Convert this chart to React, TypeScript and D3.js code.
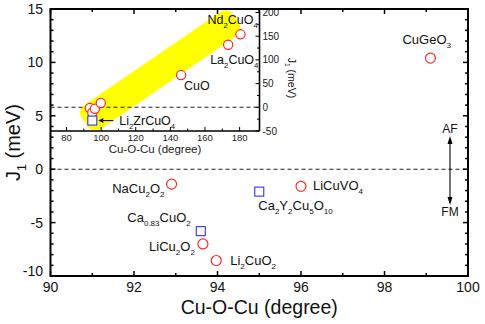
import * as d3 from "d3";

// main panel: J1 vs Cu-O-Cu angle
const circleNames = ["CuGeO_3", "NaCu_2O_2", "LiCu_2O_2", "Li_2CuO_2", "LiCuVO_4"];
const circleAngle = [99.1, 92.9, 93.65, 93.97, 96.0];
const circleJ1 = [10.4, -1.4, -7.0, -8.55, -1.6];

const squareNames = ["Ca_0.83CuO_2", "Ca_2Y_2Cu_5O_10"];
const squareAngle = [93.6, 95.0];
const squareJ1 = [-5.8, -2.1];

// inset: J1 over a wide angle range
const insetCircleAngle = [93.5, 94.9, 96.4, 99.8, 146.2, 173.4, 180.5];
const insetCircleJ1 = [-1.5, -11, -3, 9, 68, 132, 154];
const insetCircleNames = ["", "", "", "", "CuO", "La_2CuO_4", "Nd_2CuO_4"];
const insetSquareAngle = [94.9];
const insetSquareJ1 = [-28];
const insetSquareNames = ["Li_2ZrCuO_4"];

const xTicks = [90, 92, 94, 96, 98, 100];
const yTicks = [-10, -5, 0, 5, 10, 15];
const insetXTicks = [80, 100, 120, 140, 160, 180];
const insetYTicks = [-50, 0, 50, 100, 150, 200];

// yellow band ends (angle, J1)
const bandStart = [92.5, -27];
const bandEnd = [176, 182];

const FONT = "'Liberation Sans', Arial, Helvetica, sans-serif";

// label offsets [dx, dy, anchor]
const circleLabelPos: [number, number, string][] = [
  [-28, -14, "start"],
  [-7, 9, "end"],
  [-8, 7, "end"],
  [14, 4, "start"],
  [12, 4, "start"],
];
const squareLabelPos: [number, number, string][] = [
  [-10, -9, "end"],
  [-1, 18, "start"],
];
const insetLabelPos: [number, number, string][] = [
  [0, 0, "start"],
  [0, 0, "start"],
  [0, 0, "start"],
  [0, 0, "start"],
  [3, 15, "start"],
  [-18, 19, "start"],
  [-33, -10, "start"],
];

function Chem({ text, x, y, size, anchor = "start", transform }: any) {
  const parts = text.split(/(_[0-9.]+)/).filter(Boolean);
  let shifted = false;
  const sh = size * 0.32;
  return (
    <text x={x} y={y} fontSize={size} textAnchor={anchor} fontFamily={FONT} fill="#111" transform={transform}>
      {parts.map((p: string, i: number) => {
        if (p.startsWith("_")) {
          const el = (
            <tspan key={i} dy={shifted ? 0 : sh} fontSize={size * 0.62}>
              {p.slice(1)}
            </tspan>
          );
          shifted = true;
          return el;
        }
        const el = (
          <tspan key={i} dy={shifted ? -sh : 0}>
            {p}
          </tspan>
        );
        shifted = false;
        return el;
      })}
    </text>
  );
}

export default function App() {
  const width = 485;
  const height = 324;

  const x = d3.scaleLinear().domain([90, 100]).range([50.5, 468]);
  const y = d3.scaleLinear().domain([-10, 15]).range([276, 9]);

  const ix = d3.scaleLinear().domain([70.75, 191.5]).range([50.5, 259.5]);
  const iy = d3.scaleLinear().domain([-50, 207.4]).range([131, 9]);

  const xMinor = d3.range(90, 101, 1);
  const yMinor = d3.range(-10, 16, 1);
  const ixMinor = d3.range(80, 190, 10);
  const iyMinor = d3.range(-50, 201, 25);

  // band geometry from inset scales
  const bx0 = ix(bandStart[0]);
  const by0 = iy(bandStart[1]);
  const bx1 = ix(bandEnd[0]);
  const by1 = iy(bandEnd[1]);
  const bandLen = Math.hypot(bx1 - bx0, by1 - by0) + 8;
  const bandAng = (Math.atan2(by1 - by0, bx1 - bx0) * 180) / Math.PI;
  const bandW = 29;

  const [x0, x1] = x.range();
  const [yb, yt] = y.range();
  const insetRight = ix.range()[1];
  const insetBottom = iy.range()[0];

  return (
    <svg
      width={width}
      height={height}
      style={{ position: "absolute", left: 0, top: 0, background: "#fff" }}
    >
      {/* ---------- inset ---------- */}
      <rect x={x0} y={yt} width={insetRight - x0} height={insetBottom - yt} fill="#fff" />
      <g transform={`translate(${(bx0 + bx1) / 2},${(by0 + by1) / 2}) rotate(${bandAng})`}>
        <rect x={-bandLen / 2} y={-bandW / 2} width={bandLen} height={bandW} rx={9} fill="#ffff00" />
      </g>
      <line x1={x0} x2={insetRight} y1={iy(0)} y2={iy(0)} stroke="#222" strokeWidth={1.1} strokeDasharray="4,3" />
      {insetCircleAngle.map((a, i) => (
        <circle key={i} cx={ix(a)} cy={iy(insetCircleJ1[i])} r={4.6} fill="#fff" stroke="#ff2a2a" strokeWidth={1.2} />
      ))}
      {insetSquareAngle.map((a, i) => (
        <rect key={i} x={ix(a) - 4.5} y={iy(insetSquareJ1[i]) - 4.5} width={9} height={9} fill="#fff" stroke="#3030ff" strokeWidth={1.1} />
      ))}
      {insetCircleNames.map((n, i) =>
        n ? (
          <Chem
            key={i}
            text={n}
            x={ix(insetCircleAngle[i]) + insetLabelPos[i][0]}
            y={iy(insetCircleJ1[i]) + insetLabelPos[i][1]}
            size={12.5}
            anchor={insetLabelPos[i][2]}
          />
        ) : null
      )}
      {insetSquareNames.map((n, i) => {
        const sx = ix(insetSquareAngle[i]);
        const sy = iy(insetSquareJ1[i]);
        return (
          <g key={i}>
            <line x1={sx + 21} x2={sx + 9} y1={sy} y2={sy} stroke="#111" strokeWidth={1.1} />
            <path d={`M${sx + 6},${sy} L${sx + 11},${sy - 2.5} L${sx + 11},${sy + 2.5} Z`} fill="#111" />
            <Chem text={n} x={sx + 27} y={sy + 4} size={12.5} />
          </g>
        );
      })}
      {/* inset frame and axes */}
      <line x1={x0} x2={insetRight} y1={insetBottom} y2={insetBottom} stroke="#000" strokeWidth={1.6} />
      <line x1={insetRight} x2={insetRight} y1={yt} y2={insetBottom} stroke="#000" strokeWidth={1.6} />
      {ixMinor.map((t) => (
        <line key={t} x1={ix(t)} x2={ix(t)} y1={insetBottom} y2={insetBottom - (t % 20 === 0 ? 4 : 2.5)} stroke="#000" strokeWidth={1} />
      ))}
      {insetXTicks.map((t) => (
        <text key={t} x={ix(t)} y={insetBottom + 10} fontSize={9.5} textAnchor="middle" fontFamily={FONT} fill="#222">
          {t}
        </text>
      ))}
      <text x={(x0 + insetRight) / 2} y={152.5} fontSize={11.5} textAnchor="middle" fontFamily={FONT} fill="#222">
        Cu-O-Cu (degree)
      </text>
      {iyMinor.map((t) => (
        <line key={t} x1={insetRight} x2={insetRight - (t % 50 === 0 ? 4 : 2.5)} y1={iy(t)} y2={iy(t)} stroke="#000" strokeWidth={1} />
      ))}
      {insetYTicks.map((t) => (
        <text key={t} x={insetRight + 3} y={iy(t)} dy="0.35em" fontSize={10} fontFamily={FONT} fill="#222">
          {t}
        </text>
      ))}
      <Chem text="J_1 (meV)" x={0} y={0} size={10.5} anchor="middle" transform={`translate(288,78) rotate(90)`} />

      {/* ---------- main panel ---------- */}
      <line x1={insetRight} x2={x1} y1={y(0)} y2={y(0)} stroke="#222" strokeWidth={1.1} strokeDasharray="4,3" />
      <line x1={x0} x2={insetRight} y1={y(0)} y2={y(0)} stroke="#222" strokeWidth={1.1} strokeDasharray="4,3" />

      {circleAngle.map((a, i) => (
        <circle key={i} cx={x(a)} cy={y(circleJ1[i])} r={5} fill="none" stroke="#ff2a2a" strokeWidth={1.2} />
      ))}
      {squareAngle.map((a, i) => (
        <rect key={i} x={x(a) - 4.5} y={y(squareJ1[i]) - 4.5} width={9} height={9} fill="none" stroke="#3030ff" strokeWidth={1.1} />
      ))}
      {circleNames.map((n, i) => (
        <Chem
          key={i}
          text={n}
          x={x(circleAngle[i]) + circleLabelPos[i][0]}
          y={y(circleJ1[i]) + circleLabelPos[i][1]}
          size={13}
          anchor={circleLabelPos[i][2]}
        />
      ))}
      {squareNames.map((n, i) => (
        <Chem
          key={i}
          text={n}
          x={x(squareAngle[i]) + squareLabelPos[i][0]}
          y={y(squareJ1[i]) + squareLabelPos[i][1]}
          size={13}
          anchor={squareLabelPos[i][2]}
        />
      ))}

      {/* AF / FM arrow */}
      <line x1={450} x2={450} y1={141} y2={200} stroke="#000" strokeWidth={1.1} />
      <path d="M450,136 L447.5,144 L452.5,144 Z" fill="#000" />
      <path d="M450,205 L447.5,197 L452.5,197 Z" fill="#000" />
      <text x={450} y={133} fontSize={12} textAnchor="middle" fontFamily={FONT} fill="#111">AF</text>
      <text x={450} y={216} fontSize={12} textAnchor="middle" fontFamily={FONT} fill="#111">FM</text>

      {/* frame */}
      <rect x={x0} y={yt} width={x1 - x0} height={yb - yt} fill="none" stroke="#000" strokeWidth={2} />
      {xMinor.map((t) => {
        const len = t % 2 === 0 ? 5 : 3;
        return (
          <g key={t}>
            <line x1={x(t)} x2={x(t)} y1={yb} y2={yb - len} stroke="#000" strokeWidth={1.5} />
            <line x1={x(t)} x2={x(t)} y1={yt} y2={yt + len} stroke="#000" strokeWidth={1.5} />
          </g>
        );
      })}
      {yMinor.map((t) => {
        const len = t % 5 === 0 ? 5 : 3;
        return (
          <g key={t}>
            <line x1={x0} x2={x0 + len} y1={y(t)} y2={y(t)} stroke="#000" strokeWidth={1.5} />
            <line x1={x1} x2={x1 - len} y1={y(t)} y2={y(t)} stroke="#000" strokeWidth={1.5} />
          </g>
        );
      })}
      {xTicks.map((t) => (
        <text key={t} x={x(t)} y={292} fontSize={14} textAnchor="middle" fontFamily={FONT} fill="#111">
          {t}
        </text>
      ))}
      {yTicks.map((t) => (
        <text key={t} x={43} y={y(t) - (t === -10 ? 5 : 0)} dy="0.35em" fontSize={14} textAnchor="end" fontFamily={FONT} fill="#111">
          {t}
        </text>
      ))}
      <text x={(x0 + x1) / 2} y={314} fontSize={19.5} textAnchor="middle" fontFamily={FONT} fill="#111">
        Cu-O-Cu (degree)
      </text>
      <Chem text="J_1 (meV)" x={0} y={0} size={20} anchor="middle" transform={`translate(20,${(yb + yt) / 2}) rotate(-90)`} />
    </svg>
  );
}
